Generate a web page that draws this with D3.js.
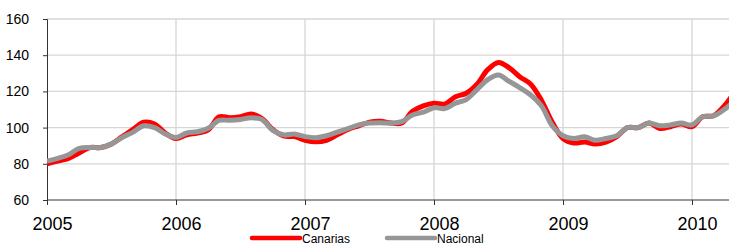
<!DOCTYPE html>
<html>
<head>
<meta charset="utf-8">
<script src="https://cdn.jsdelivr.net/npm/d3@7"></script>
<style>
  body { margin: 0; background: #fff; }
  text { font-family: "Liberation Sans", Arial, sans-serif; fill: #000; }
</style>
</head>
<body>
<div id="chart"></div>
<script>
// monthly index, Jan 2005 .. May 2010
const canarias = [
  80, 81.5, 83, 86, 89, 89, 91, 95, 99, 103, 102, 97,
  94, 96, 97, 98.7, 106, 105.5, 106, 107.5, 105, 99, 95.4, 95,
  93, 92.2, 93, 96, 99, 101, 103, 103.5, 102.5, 102.5, 109, 112,
  113.5, 113, 117, 119, 124, 132, 136, 133, 128, 124, 115, 103,
  94, 91.5, 92, 91, 92, 95, 100, 100, 102.5, 99.5, 100.5, 102,
  100.5, 106, 106.5, 112, 120
];
const nacional = [
  81.5, 83, 85, 88.5, 89, 89, 91, 94.5, 97.5, 101, 100, 96.5,
  94.5, 97, 97.7, 99.6, 104, 104, 104.5, 105.5, 104.5, 98.5, 96, 96.5,
  95, 94.4, 95.5, 97.5, 99.5, 101.5, 102.5, 102.7, 102.5, 103.3, 107, 108.5,
  111, 110.5, 113.5, 115.5, 121, 126.5, 129, 125.5, 122, 118, 112, 101,
  95.5, 94, 95, 93, 94, 95.5, 100, 100, 102.5, 101, 101.5, 102.5,
  101.5, 106, 106.5, 110, 115
];
const yTicks = [60, 80, 100, 120, 140, 160];
const years = [2005, 2006, 2007, 2008, 2009, 2010];
const seriesNames = ['Canarias', 'Nacional'];

const width = 729, height = 244;
const margin = {top: 19, right: 0, bottom: 44, left: 47};

const svg = d3.select('#chart').append('svg')
    .attr('width', width)
    .attr('height', height);

// 129px per year, origin at Jan 2005
const x = d3.scaleLinear()
    .domain([2005, 2010])
    .range([margin.left, margin.left + 5 * 129]);

const y = d3.scaleLinear()
    .domain([60, 160])
    .range([height - margin.bottom, margin.top]);

const monthX = i => x(2005 + i / 12);

// grid
svg.append('g').selectAll('line').data(yTicks.slice(1)).join('line')
    .attr('x1', margin.left).attr('x2', width)
    .attr('y1', d => y(d)).attr('y2', d => y(d))
    .attr('stroke', '#d6d6d6').attr('stroke-width', 1.3);

svg.append('g').selectAll('line').data(years.slice(1)).join('line')
    .attr('x1', d => x(d)).attr('x2', d => x(d))
    .attr('y1', y(160)).attr('y2', y(60))
    .attr('stroke', '#d6d6d6').attr('stroke-width', 1.3);

// axes
const yAxis = svg.append('g')
    .attr('transform', `translate(${margin.left},0)`)
    .call(d3.axisLeft(y).tickValues(yTicks).tickSize(4).tickPadding(14));
yAxis.select('.domain').attr('stroke', '#333');
yAxis.selectAll('.tick line').attr('stroke', '#333');
yAxis.selectAll('text').style('font-size', '14px').attr('fill', '#000')
    .attr('font-family', '"Liberation Sans", Arial, sans-serif');

const xAxis = svg.append('g')
    .attr('transform', `translate(0,${y(60)})`)
    .call(d3.axisBottom(x).tickValues(years).tickFormat(d3.format('d')).tickSize(5).tickPadding(12));
xAxis.select('.domain').attr('d', `M${margin.left},0H${width}`).attr('stroke', '#333');
xAxis.selectAll('.tick line').attr('stroke', '#333');
xAxis.selectAll('text').style('font-size', '18px').attr('fill', '#000')
    .attr('dx', 5)
    .attr('font-family', '"Liberation Sans", Arial, sans-serif');

// lines
const line = d3.line()
    .x((d, i) => monthX(i))
    .y(d => y(d))
    .curve(d3.curveCatmullRom.alpha(0.5));

svg.append('clipPath').attr('id', 'clip')
    .append('rect').attr('x', margin.left).attr('y', 0)
    .attr('width', width - margin.left).attr('height', height);

const colors = ['#ff0000', '#969696'];
const plot = svg.append('g').attr('clip-path', 'url(#clip)');
[canarias, nacional].forEach((s, k) => {
  plot.append('path')
      .datum(s)
      .attr('d', line)
      .attr('fill', 'none')
      .attr('stroke', colors[k])
      .attr('stroke-width', 5)
      .attr('stroke-linejoin', 'round');
});

// legend
const legendX = [252, 387];
const legend = svg.append('g');
seriesNames.forEach((name, k) => {
  legend.append('line')
      .attr('x1', legendX[k]).attr('x2', legendX[k] + 48)
      .attr('y1', 238).attr('y2', 238)
      .attr('stroke', colors[k]).attr('stroke-width', 4.5)
      .attr('stroke-linecap', 'round');
  legend.append('text')
      .attr('x', legendX[k] + 50).attr('y', 242.5)
      .style('font-size', '12px')
      .text(name);
});
</script>
</body>
</html>
